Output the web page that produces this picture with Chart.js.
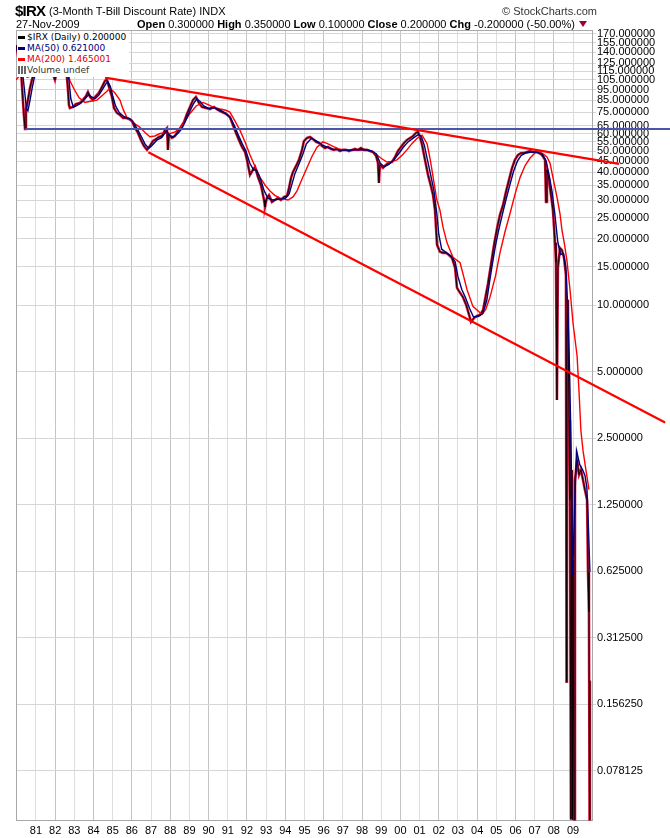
<!DOCTYPE html>
<html>
<head>
<meta charset="utf-8">
<script src="https://cdn.jsdelivr.net/npm/chart.js@4.4.1/dist/chart.umd.min.js"></script>
<style>
  html, body { margin: 0; padding: 0; background: #fff; }
  #wrap { position: relative; width: 670px; height: 838px; font-family: "Liberation Sans", Arial, sans-serif; }
  canvas { position: absolute; left: 0; top: 0; }
  .t { position: absolute; white-space: nowrap; color: #000; }
  #legend { position: absolute; left: 17px; top: 32px; background: #fff; font-family: "DejaVu Sans", sans-serif;
            font-size: 9px; line-height: 11px; padding: 0 3px 1px 1px; }
  .sw { display: inline-block; width: 7px; height: 3px; vertical-align: middle; margin: 0 2px 1px 0; }
  .vol { display: inline-block; width: 8px; height: 8px; vertical-align: -1px; margin-right: 1px;
         background: linear-gradient(90deg, #666 0 2px, transparent 2px 3px, #666 3px 5px, transparent 5px 6px, #666 6px 8px); }
  .tri { display: inline-block; width: 0; height: 0; border-left: 4px solid transparent; border-right: 4px solid transparent;
         border-top: 6px solid #9a0030; margin-left: 4px; vertical-align: 1px; }
</style>
</head>
<body>
<div id="wrap">
  <canvas id="chart" width="670" height="838"></canvas>
  <div class="t" style="left:15px; top:2px; font-size:15px; font-weight:bold; letter-spacing:-0.8px;">$IRX</div>
  <div class="t" style="left:49px; top:5px; font-size:11px;">(3-Month T-Bill Discount Rate) INDX</div>
  <div class="t" style="right:73px; top:5px; font-size:11px; color:#333;">&copy; StockCharts.com</div>
  <div class="t" style="left:16px; top:18px; font-size:11px;">27-Nov-2009</div>
  <div class="t" style="left:137px; top:18px; font-size:11px;"><b>Open</b> 0.300000 <b>High</b> 0.350000 <b>Low</b> 0.100000 <b>Close</b> 0.200000 <b>Chg</b> -0.200000 (-50.00%)<span class="tri"></span></div>
  <div id="legend">
    <div><span class="sw" style="background:#000"></span>$IRX (Daily) 0.200000</div>
    <div style="color:#00007a"><span class="sw" style="background:#00007a"></span>MA(50) 0.621000</div>
    <div style="color:#e00000"><span class="sw" style="background:#f00"></span>MA(200) 1.465001</div>
    <div style="color:#333"><span class="vol"></span>Volume undef</div>
  </div>
</div>
<script>
// $IRX daily close, [decimal year, value]
const irxDaily = [
  [1979.96,151],[1980.11,129],[1980.22,116],[1980.32,85],[1980.37,73],[1980.43,63],[1980.48,77],[1980.58,85],
  [1980.69,96.5],[1980.79,105],[1980.90,113],[1981.00,127],[1981.21,143],[1981.47,136],[1981.63,151],[1981.78,129],
  [1981.89,111],[1981.99,105],[1982.09,114],[1982.25,136],[1982.41,129],[1982.56,123],[1982.67,94.5],[1982.72,80.8],
  [1982.77,78.3],[1982.93,79.2],[1983.09,81.7],[1983.29,82.5],[1983.45,85.2],[1983.61,88.8],[1983.71,92.6],[1983.82,87.9],
  [1983.97,85.2],[1984.13,88.8],[1984.28,91.6],[1984.44,97.5],[1984.60,104],[1984.70,105],[1984.81,97.5],[1984.96,87.9],
  [1985.07,78.3],[1985.22,74.4],[1985.38,72.8],[1985.54,70.6],[1985.69,70.6],[1985.85,69.9],[1986.01,68.4],[1986.16,63.6],
  [1986.32,60.4],[1986.47,56.1],[1986.63,52.7],[1986.79,50.6],[1986.94,52.7],[1987.10,55.5],[1987.26,56.7],[1987.41,57.9],
  [1987.57,58.5],[1987.73,62.3],[1987.83,63.6],[1987.88,50.6],[1987.93,59.1],[1988.09,57.3],[1988.25,58.5],[1988.40,61.6],
  [1988.56,64.3],[1988.72,67.7],[1988.87,73.6],[1989.03,79.2],[1989.19,85.2],[1989.34,87.9],[1989.50,82.5],[1989.65,79.2],
  [1989.86,78.3],[1990.07,77.5],[1990.28,79.2],[1990.49,76.7],[1990.70,75.1],[1990.91,73.6],[1991.11,71.3],[1991.27,65.6],
  [1991.43,60.4],[1991.58,56.1],[1991.74,52.2],[1991.90,49.5],[1992.00,45.6],[1992.16,39.0],[1992.31,41.1],[1992.42,42.4],
  [1992.57,38.2],[1992.73,35.1],[1992.89,30.0],[1992.94,27.9],[1993.04,30.7],[1993.15,31.6],[1993.30,29.4],[1993.46,30.0],
  [1993.62,30.7],[1993.77,30.0],[1993.93,31.0],[1994.09,31.3],[1994.19,34.0],[1994.30,37.8],[1994.40,40.2],[1994.56,42.8],
  [1994.71,45.6],[1994.87,50.6],[1994.97,55.5],[1995.13,57.3],[1995.29,57.9],[1995.44,56.7],[1995.60,55.0],[1995.76,54.4],
  [1995.91,52.7],[1996.07,51.6],[1996.22,52.2],[1996.38,51.1],[1996.54,50.6],[1996.69,51.1],[1996.85,50.0],[1997.01,50.6],
  [1997.16,50.6],[1997.32,50.0],[1997.48,50.6],[1997.63,51.1],[1997.79,50.6],[1997.94,51.6],[1998.10,50.6],[1998.26,50.6],
  [1998.41,50.0],[1998.57,49.5],[1998.73,47.5],[1998.83,44.2],[1998.88,35.9],[1998.93,43.3],[1999.09,41.9],[1999.25,43.3],
  [1999.40,44.2],[1999.56,44.6],[1999.72,47.0],[1999.87,50.0],[2000.03,52.2],[2000.19,54.4],[2000.34,56.1],[2000.50,57.3],
  [2000.66,58.5],[2000.81,60.4],[2000.92,61.0],[2001.02,57.9],[2001.13,53.3],[2001.28,45.6],[2001.44,39.0],[2001.59,34.7],
  [2001.70,31.6],[2001.80,27.1],[2001.91,18.8],[2002.06,17.5],[2002.22,17.3],[2002.38,17.3],[2002.53,16.9],[2002.69,16.4],
  [2002.85,14.8],[2002.95,12.0],[2003.11,11.4],[2003.26,10.9],[2003.42,10.1],[2003.58,9.06],[2003.68,8.42],[2003.84,8.78],
  [2003.99,8.96],[2004.15,9.06],[2004.31,9.54],[2004.41,10.6],[2004.57,12.6],[2004.72,15.3],[2004.88,18.8],[2005.04,22.4],
  [2005.19,25.7],[2005.35,28.5],[2005.50,32.6],[2005.66,37.0],[2005.82,41.9],[2005.97,45.6],[2006.13,48.0],[2006.29,49.0],
  [2006.44,49.0],[2006.60,49.5],[2006.76,50.0],[2006.91,49.5],[2007.07,49.5],[2007.22,49.0],[2007.38,48.0],[2007.54,45.6],
  [2007.59,29.4],[2007.64,41.1],[2007.75,37.0],[2007.85,31.6],[2007.95,27.1],[2008.06,19.2],[2008.11,15.7],[2008.16,3.73],
  [2008.21,14.8],[2008.32,18.2],[2008.42,17.8],[2008.53,16.4],[2008.63,13.7],[2008.66,0.198],[2008.68,6.98],[2008.73,10.6],
  [2008.79,3.03],[2008.84,1.32],[2008.89,0.047],[2008.94,1.80],[2008.97,0.047],[2009.00,0.70],[2009.05,0.047],[2009.10,1.62],
  [2009.21,2.0],[2009.31,1.71],[2009.41,1.80],[2009.52,1.62],[2009.62,1.46],[2009.73,1.32],[2009.78,0.62],[2009.83,0.41],
  [2009.86,0.047],[2009.88,0.2]
];

// 50-day moving average
const ma50 = [
  [1979.96,145],[1980.10,140],[1980.25,125],[1980.40,95],[1980.50,78],[1980.58,76],[1980.68,84],[1980.80,96],[1980.92,108],
  [1981.05,122],[1981.30,138],[1981.60,142],[1981.85,130],[1982.00,112],[1982.15,114],[1982.35,128],[1982.60,122],
  [1982.72,105],[1982.82,86],[1982.95,79],[1983.15,80.5],[1983.35,82.5],[1983.55,86],[1983.75,90],[1983.90,88],
  [1984.10,86.5],[1984.30,90],[1984.50,96],[1984.65,101],[1984.75,103],[1984.88,98],[1985.00,89],[1985.15,80],
  [1985.35,74.5],[1985.60,71.5],[1985.90,70],[1986.10,67],[1986.30,62.5],[1986.50,58],[1986.70,53.5],[1986.88,51.5],
  [1987.05,53],[1987.30,56],[1987.55,57.5],[1987.80,61.5],[1987.95,59],[1988.15,58],[1988.40,60],[1988.60,63],
  [1988.80,68.5],[1989.00,75],[1989.20,81.5],[1989.38,86],[1989.55,84],[1989.75,80],[1990.00,78],[1990.30,78.5],
  [1990.60,76.5],[1990.90,74],[1991.15,70.5],[1991.35,65],[1991.55,59],[1991.75,54],[1991.95,50],[1992.15,44],
  [1992.35,41],[1992.50,41],[1992.70,37.5],[1992.90,33],[1993.10,30.5],[1993.35,30],[1993.70,30.3],[1994.00,30.5],
  [1994.20,32],[1994.35,35.5],[1994.50,39.5],[1994.70,43.5],[1994.90,48],[1995.10,54],[1995.35,57],[1995.60,55.8],
  [1995.90,53.5],[1996.20,52],[1996.50,51],[1996.90,50.5],[1997.30,50.4],[1997.70,50.7],[1998.10,50.8],[1998.50,50],
  [1998.75,48.5],[1998.95,44],[1999.15,42.5],[1999.40,43.5],[1999.65,45.5],[1999.90,48.5],[2000.15,52],[2000.40,55],
  [2000.70,57.5],[2000.95,59.5],[2001.10,58],[2001.25,53],[2001.40,46],[2001.55,40],[2001.75,33],[2001.90,26],
  [2002.00,21],[2002.15,18],[2002.40,17.3],[2002.65,16.7],[2002.85,15.8],[2003.00,13.5],[2003.20,11.8],[2003.40,10.8],
  [2003.60,9.7],[2003.80,8.9],[2004.05,8.9],[2004.30,9.2],[2004.50,10.5],[2004.65,12.8],[2004.80,15.5],[2004.95,18.5],
  [2005.10,21.5],[2005.30,25.5],[2005.50,30],[2005.70,35],[2005.90,40.5],[2006.10,45],[2006.30,47.8],[2006.55,49],
  [2006.85,49.5],[2007.15,49.3],[2007.40,48.5],[2007.60,45],[2007.75,39],[2007.90,33],[2008.05,26],[2008.20,19.5],
  [2008.35,17],[2008.50,17.2],[2008.62,15],[2008.72,10],[2008.82,5],[2008.90,2.2],[2008.98,0.6],[2009.08,1.2],
  [2009.18,2.2],[2009.35,1.9],[2009.50,1.8],[2009.62,1.7],[2009.72,1.5],[2009.80,1.0],[2009.88,0.621]
];

// 200-day moving average
const ma200 = [
  [1979.96,105],[1980.25,112],[1980.55,108],[1980.85,110],[1981.20,125],[1981.60,140],[1982.00,135],[1982.40,128],
  [1982.60,124],[1982.77,104],[1983.00,95],[1983.25,87],[1983.55,83],[1983.85,84],[1984.18,85],[1984.50,90],
  [1984.86,96],[1985.10,92],[1985.38,85],[1985.55,77],[1985.74,71],[1986.00,68],[1986.20,66],[1986.42,64],
  [1986.70,60.5],[1986.94,58],[1987.20,58.5],[1987.47,60],[1987.75,60.5],[1987.99,60],[1988.25,61],[1988.51,63.6],
  [1988.75,68],[1989.03,74],[1989.35,80],[1989.71,83],[1990.00,81],[1990.23,79],[1990.60,77.5],[1990.90,76.5],
  [1991.11,75],[1991.35,69],[1991.64,62],[1991.90,55],[1992.16,48],[1992.40,43],[1992.68,38],[1992.95,35],
  [1993.20,33],[1993.45,31.5],[1993.72,30.6],[1994.14,30],[1994.40,31],[1994.61,33],[1994.85,37],[1995.13,42],
  [1995.40,47.5],[1995.65,52],[1995.96,55],[1996.20,54],[1996.49,52.5],[1996.75,51.3],[1997.01,50.6],[1997.50,50.4],
  [1998.05,50.6],[1998.45,50.2],[1998.78,48],[1999.05,46],[1999.30,44.6],[1999.55,44.8],[1999.82,45.6],[2000.10,48],
  [2000.34,50.6],[2000.60,54],[2000.86,57],[2001.13,59],[2001.39,54],[2001.55,46],[2001.70,38.3],[2001.90,30],
  [2002.06,27],[2002.22,22.6],[2002.43,19.2],[2002.74,16.5],[2003.11,15.6],[2003.30,13.5],[2003.47,11.8],[2003.78,9.9],
  [2004.25,9.1],[2004.45,9.6],[2004.67,10.9],[2004.95,13.5],[2005.19,17.3],[2005.45,21.5],[2005.71,26],[2005.98,32],
  [2006.24,38],[2006.50,43],[2006.76,46.5],[2007.07,49.5],[2007.28,49.5],[2007.45,48.5],[2007.64,47],[2007.80,44],
  [2007.95,38],[2008.16,31],[2008.32,26],[2008.42,22],[2008.55,19],[2008.68,16],[2008.84,11.8],[2009.00,8.3],
  [2009.21,5.9],[2009.31,4.1],[2009.41,2.7],[2009.52,2.2],[2009.67,1.8],[2009.83,1.465]
];

// hand-drawn trend lines
const upperTrend = [[1984.60,107.5],[2011.40,43.7]];
const lowerTrend = [[1986.86,49.4],[2013.80,2.95]];
const supportLine = [[1980.45,62.9],[2014.06,62.9]];

const yearTicks = [1981,1982,1983,1984,1985,1986,1987,1988,1989,1990,1991,1992,1993,1994,1995,
  1996,1997,1998,1999,2000,2001,2002,2003,2004,2005,2006,2007,2008,2009];
const valueTicks = [170,155,140,125,115,105,95,85,75,65,60,55,50,45,40,35,30,25,20,15,10,
  5,2.5,1.25,0.625,0.3125,0.15625,0.078125];

const toXY = pts => pts.map(p => ({ x: p[0], y: p[1] }));

const frame = {
  id: "frame",
  beforeDatasetsDraw(chart) {
    const { ctx, chartArea: a } = chart;
    ctx.save();
    ctx.strokeStyle = "#a8a8a8";
    ctx.lineWidth = 1;
    ctx.strokeRect(a.left + 0.5, a.top + 0.5, a.right - a.left - 1, a.bottom - a.top - 1);
    ctx.restore();
  }
};

new Chart(document.getElementById("chart"), {
  type: "line",
  data: {
    datasets: [
      { data: toXY(upperTrend), borderColor: "#ff0000", borderWidth: 2.2, clip: false, order: 0 },
      { data: toXY(lowerTrend), borderColor: "#ff0000", borderWidth: 2.2, clip: false, order: 0 },
      { data: toXY(supportLine), borderColor: "#4c55a8", borderWidth: 2, clip: false, order: 0 },
      { data: toXY(ma50), borderColor: "#00007a", borderWidth: 1.4, order: 1 },
      { data: toXY(ma200), borderColor: "#ff0000", borderWidth: 1.4, order: 2 },
      { data: toXY(irxDaily), borderColor: "#000000", borderWidth: 0.9, order: 3 },
      { data: toXY(irxDaily), borderColor: "#d0103a", borderWidth: 2.6, order: 4 },
    ],
  },
  options: {
    responsive: false,
    animation: false,
    layout: { padding: { top: 30, left: 16, right: 0, bottom: 0 } },
    elements: { point: { radius: 0 }, line: { tension: 0 } },
    plugins: { legend: { display: false }, tooltip: { enabled: false } },
    scales: {
      x: {
        type: "linear",
        bounds: "data",
        min: 1979.96,
        max: 2010.04,
        afterBuildTicks: (s) => { s.ticks = yearTicks.map((v) => ({ value: v })); },
        afterFit: (s) => { s.height = 17; },
        ticks: {
          autoSkip: false,
          maxRotation: 0,
          padding: 3,
          color: "#000",
          font: { family: "Liberation Sans", size: 11 },
          callback: (v) => String(v).slice(2),
        },
        grid: {
          drawTicks: false,
          color: (c) => (c.tick && c.tick.value % 2 === 0 ? "#c4c4c4" : "#dedede"),
        },
        border: { display: false },
      },
      y: {
        type: "logarithmic",
        position: "right",
        bounds: "data",
        min: 0.0463,
        max: 176.6,
        afterBuildTicks: (s) => { s.ticks = valueTicks.map((v) => ({ value: v })); },
        afterFit: (s) => { s.width = 77; },
        ticks: {
          autoSkip: false,
          padding: 1,
          color: "#000",
          font: { family: "Liberation Sans", size: 11 },
          callback: (v) => Number(v).toFixed(6),
        },
        grid: { color: "#d6d6d6", tickLength: 3 },
        border: { display: false },
      },
    },
  },
  plugins: [frame],
});
</script>
</body>
</html>
